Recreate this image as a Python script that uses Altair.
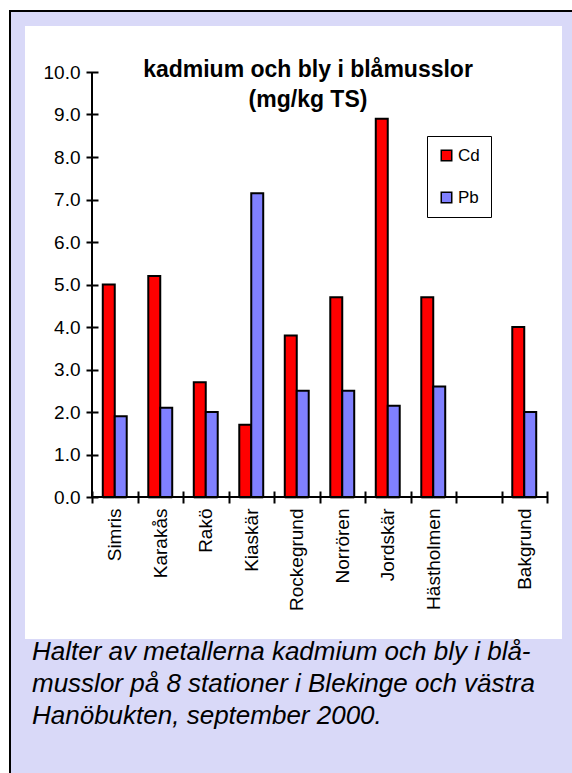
import altair as alt
import pandas as pd

# Stations along the x axis; the blank slot separates the reference station
slots = ["Simris", "Karakås", "Rakö", "Kiaskär", "Rockegrund", "Norrören",
         "Jordskär", "Hästholmen", " ", "Bakgrund"]
stations = ["Simris", "Karakås", "Rakö", "Kiaskär", "Rockegrund", "Norrören",
            "Jordskär", "Hästholmen", "Bakgrund"]
cadmium = [5.0, 5.2, 2.7, 1.7, 3.8, 4.7, 8.9, 4.7, 4.0]
lead = [1.9, 2.1, 2.0, 7.15, 2.5, 2.5, 2.15, 2.6, 2.0]
metals = ["Cd", "Pb"]
metal_colors = ["#FF0000", "#8080FF"]
y_ticks = [0, 1, 2, 3, 4, 5, 6, 7, 8, 9, 10]

title_lines = ["kadmium och bly i blåmusslor", "(mg/kg TS)"]
caption_lines = ["Halter av metallerna kadmium och bly i blå-",
                 "musslor på 8 stationer i Blekinge och västra",
                 "Hanöbukten, september 2000."]

rows = []
for s, c, p in zip(stations, cadmium, lead):
    rows.append({"station": s, "metal": "Cd", "value": c})
    rows.append({"station": s, "metal": "Pb", "value": p})
df = pd.DataFrame(rows)

FONT = "Liberation Sans"
W, H = 455, 425
one = alt.Data(values=[{}])

# Page framing: lavender card with a black edge and a white chart panel
card = alt.Chart(one).mark_rect(color="#D9D9F8").encode(
    x=alt.value(-81), x2=alt.value(480), y=alt.value(-60), y2=alt.value(701))
edge_left = alt.Chart(one).mark_rule(color="black", strokeWidth=2).encode(
    x=alt.value(-82), y=alt.value(-62), y2=alt.value(701))
edge_top = alt.Chart(one).mark_rule(color="black", strokeWidth=2).encode(
    y=alt.value(-61), x=alt.value(-83), x2=alt.value(480))
panel = alt.Chart(one).mark_rect(color="white").encode(
    x=alt.value(-67), x2=alt.value(470), y=alt.value(-46), y2=alt.value(567))

x_enc = alt.X("station:N",
              scale=alt.Scale(domain=slots, paddingInner=0, paddingOuter=0),
              axis=alt.Axis(title=None, labelAngle=-90, tickBand="extent",
                            domain=False, tickSize=12, offset=-6, tickWidth=2,
                            tickColor="black", labelPadding=5, labelFont=FONT,
                            labelFontSize=19, labelColor="black", zindex=2))
xoff_enc = alt.XOffset("metal:N",
                       scale=alt.Scale(domain=metals, paddingOuter=0.9,
                                       paddingInner=0))
y_enc = alt.Y("value:Q",
              scale=alt.Scale(domain=[0, 10], nice=False),
              axis=alt.Axis(title=None, values=y_ticks, format=".1f",
                            grid=False, domain=False, tickSize=12, offset=-6,
                            tickWidth=2, tickColor="black", labelPadding=6,
                            labelFont=FONT, labelFontSize=19,
                            labelColor="black", zindex=2))

# Soft grey drop shadow on the right side of each bar
shadow = alt.Chart(df).mark_bar(color="#A8A8A8", xOffset=2, yOffset=2).encode(
    x=x_enc, xOffset=xoff_enc, y=y_enc)

bars = alt.Chart(df).mark_bar(stroke="black", strokeWidth=2).encode(
    x=x_enc, xOffset=xoff_enc, y=y_enc,
    color=alt.Color("metal:N",
                    scale=alt.Scale(domain=metals, range=metal_colors),
                    legend=alt.Legend(title=None, orient="none",
                                      legendX=335, legendY=64,
                                      fillColor="white", strokeColor="black",
                                      padding=11, rowPadding=24,
                                      symbolType="square", symbolSize=110,
                                      symbolStrokeColor="black",
                                      symbolStrokeWidth=1.5,
                                      symbolOpacity=1,
                                      labelFont=FONT, labelFontSize=17,
                                      labelColor="black", labelOffset=3)),
)

# Axis lines drawn on the data scales so the ticks can cross them
y_line = alt.Chart(one).mark_rule(color="black", strokeWidth=2).encode(
    x=alt.value(0), y=alt.Y(datum=0), y2=alt.Y2(datum=10))
x_line = alt.Chart(one).mark_rule(color="black", strokeWidth=2).encode(
    y=alt.Y(datum=0), x=alt.value(0), x2=alt.value(W))

title = alt.Chart(one).mark_text(
    font=FONT, fontSize=23, fontWeight="bold", align="center",
    baseline="alphabetic", lineHeight=30, color="black").encode(
    x=alt.value(216), y=alt.value(5), text=alt.value(title_lines))

caption = alt.Chart(one).mark_text(
    font=FONT, fontSize=26, fontStyle="italic", align="left",
    baseline="alphabetic", lineHeight=32, color="black").encode(
    x=alt.value(-60), y=alt.value(588), text=alt.value(caption_lines))

chart = alt.layer(card, edge_left, edge_top, panel, shadow, bars, y_line,
                  x_line, title, caption).properties(
    width=W, height=H,
    padding={"left": 92, "top": 72, "right": 25, "bottom": 276},
    autosize=alt.AutoSizeParams(type="none"),
    background="white",
).configure_view(stroke=None)

chart.save("out.html", embed_options={"renderer": "svg", "actions": False})
